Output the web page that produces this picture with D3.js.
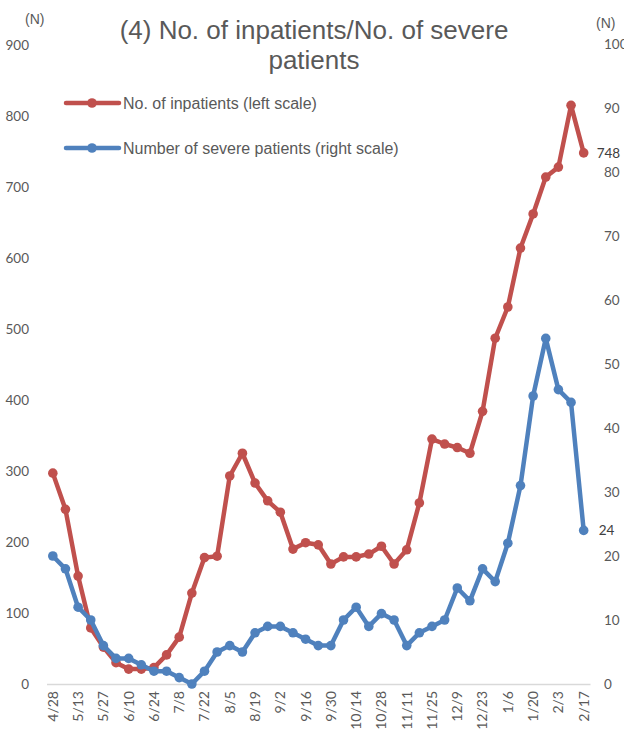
<!DOCTYPE html>
<html><head><meta charset="utf-8">
<script src="https://cdn.jsdelivr.net/npm/d3@7"></script>
<style>body{margin:0;background:#fff}svg{display:block}</style>
</head><body>
<svg id="c" width="624" height="735"></svg>
<script>
const dates = ["4/28","5/6","5/13","5/20","5/27","6/3","6/10","6/17","6/24","7/1","7/8","7/15","7/22","7/29","8/5","8/12","8/19","8/26","9/2","9/9","9/16","9/23","9/30","10/7","10/14","10/21","10/28","11/4","11/11","11/18","11/25","12/2","12/9","12/16","12/23","12/30","1/6","1/13","1/20","1/27","2/3","2/10","2/17"];
const tickLabels = ["4/28","5/13","5/27","6/10","6/24","7/8","7/22","8/5","8/19","9/2","9/16","9/30","10/14","10/28","11/11","11/25","12/9","12/23","1/6","1/20","2/3","2/17"];
const inpatients = [297,246,152,79,52,30,21,21,23,41,66,128,178,180,293,325,283,258,242,190,199,196,169,179,179,183,194,169,189,255,345,338,333,325,384,487,531,614,662,714,728,815,748];
const severe = [20,18,12,10,6,4,4,3,2,2,1,0,2,5,6,5,8,9,9,8,7,6,6,10,12,9,11,10,6,8,9,10,15,13,18,16,22,31,45,54,46,44,24];
const leftTicks = [0,100,200,300,400,500,600,700,800,900];
const rightTicks = [0,10,20,30,40,50,60,70,80,90,100];

const RED = "#C0504D", BLUE = "#4F81BD", TXT = "#595959";
const svg = d3.select("#c");
const x = d3.scaleBand().domain(dates).range([46.5, 590]);
const cx = d => x(d) + x.bandwidth()/2;
const yL = d3.scaleLinear().domain([0,900]).range([684,45]);
const yR = d3.scaleLinear().domain([0,100]).range([684,44]);

// title
const title = svg.append("text").attr("font-family","Liberation Sans, Arial, sans-serif")
  .attr("font-size",26).attr("fill",TXT).attr("text-anchor","middle");
title.append("tspan").attr("x",314).attr("y",39).text("(4) No. of inpatients/No. of severe");
title.append("tspan").attr("x",314).attr("y",69).text("patients");

// (N) labels
svg.append("text").attr("x",25).attr("y",24).attr("font-family","Liberation Sans, Arial, sans-serif").attr("font-size",14).attr("fill",TXT).text("(N)");
svg.append("text").attr("x",596).attr("y",28).attr("font-family","Liberation Sans, Arial, sans-serif").attr("font-size",14).attr("fill",TXT).text("(N)");

// left axis
const gl = svg.append("g").attr("transform","translate(29,0)")
  .call(d3.axisLeft(yL).tickValues(leftTicks).tickSize(0).tickPadding(0));
gl.select(".domain").remove();
gl.selectAll("text").attr("font-family","Lato, sans-serif").attr("font-size",13.5).attr("fill",TXT);

// right axis (the "100" label runs past the right edge, as in the original)
const gr = svg.append("g").attr("transform","translate(604,0)")
  .call(d3.axisRight(yR).tickValues(rightTicks).tickSize(0).tickPadding(0));
gr.select(".domain").remove();
gr.selectAll("text").attr("font-family","Lato, sans-serif").attr("font-size",13.5).attr("fill",TXT);

// x axis
const gx = svg.append("g").attr("transform","translate(0,684)")
  .call(d3.axisBottom(x).tickValues(tickLabels).tickSize(0).tickPadding(0));
gx.select(".domain").attr("stroke","#D9D9D9").attr("stroke-width",1.5);
gx.selectAll("text").attr("font-family","Lato, sans-serif").attr("font-size",14).attr("fill",TXT)
  .attr("text-anchor","end").attr("dy","0.35em").attr("transform","translate(0,7) rotate(-90)").attr("x",0).attr("y",0);

// lines
function series(vals, y, color){
  const line = d3.line().x((d,i)=>cx(dates[i])).y(d=>y(d));
  svg.append("path").datum(vals).attr("d",line).attr("fill","none").attr("stroke",color)
    .attr("stroke-width",4.5).attr("stroke-linejoin","round").attr("stroke-linecap","round");
  svg.append("g").selectAll("circle").data(vals).join("circle")
    .attr("cx",(d,i)=>cx(dates[i])).attr("cy",d=>y(d)).attr("r",4.8).attr("fill",color);
}
series(inpatients, yL, RED);
series(severe, yR, BLUE);

// data labels
const last = dates.length-1;
svg.append("text").attr("x",cx(dates[last])+13).attr("y",yL(inpatients[last])+5)
  .attr("font-family","Lato, sans-serif").attr("font-size",13.5).attr("fill","#404040").text(inpatients[last]);
svg.append("text").attr("x",cx(dates[last])+15).attr("y",yR(severe[last])+5)
  .attr("font-family","Lato, sans-serif").attr("font-size",13.5).attr("fill","#404040").text(severe[last]);

// legend
const legend = [{t:"No. of inpatients (left scale)", c:RED, y:103},{t:"Number of severe patients (right scale)", c:BLUE, y:148}];
legend.forEach(l=>{
  svg.append("line").attr("x1",66).attr("x2",119).attr("y1",l.y).attr("y2",l.y).attr("stroke",l.c).attr("stroke-width",4.5).attr("stroke-linecap","round");
  svg.append("circle").attr("cx",92).attr("cy",l.y).attr("r",4.8).attr("fill",l.c);
  svg.append("text").attr("x",123).attr("y",l.y+5.5).attr("font-family","Liberation Sans, Arial, sans-serif").attr("font-size",16).attr("fill",TXT).text(l.t);
});
</script>
</body></html>
